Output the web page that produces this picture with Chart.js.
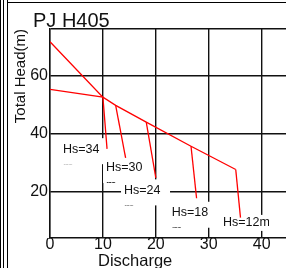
<!DOCTYPE html>
<html>
<head>
<meta charset="utf-8">
<script src="https://cdn.jsdelivr.net/npm/chart.js@4.4.1/dist/chart.umd.min.js"></script>
<style>
  body { margin: 0; background: #fff; }
  #wrap { position: relative; width: 286px; height: 268px; overflow: hidden; }
  .vline { position: absolute; top: 0; width: 1px; height: 268px; background: #000; }
  .hline { position: absolute; left: 8px; top: 2px; width: 278px; height: 1px; background: #000; }
  #title { position: absolute; left: 33px; top: 10px; font: 20px "Liberation Sans", Arial, sans-serif; line-height: 20px; color: #111; }
  #xtitle { position: absolute; left: 98px; top: 252px; font: 16.5px "Liberation Sans", Arial, sans-serif; line-height: 16px; color: #111; }
</style>
</head>
<body>
<div id="wrap">
  <canvas id="pump" width="286" height="268"></canvas>
  <div class="vline" style="left:0"></div>
  <div class="vline" style="left:3px"></div>
  <div class="vline" style="left:7px"></div>
  <div class="hline"></div>
  <div id="title">PJ H405</div>
  <div id="xtitle">Discharge</div>
</div>
<script>
// axis ticks
const xTicks = [0, 10, 20, 30, 40];
const xTickLabels = ["0", "10", "20", "30", "40"];
const yTicks = [20, 40, 60, 76];
const yTickLabels = ["20", "40", "60", ""];

// steep head curve (upper left)
const headX = [0, 10];
const headY = [71.6, 52.5];

// main performance curve
const mainX = [0, 10, 12.41, 18.19, 26.65, 35.1];
const mainY = [55.2, 52.5, 49.7, 43.9, 35.6, 27.6];

// suction head drop lines
const hsNames = ["Hs=34", "Hs=30", "Hs=24", "Hs=18", "Hs=12m"];
const dropTopX = [10, 12.41, 18.19, 26.65, 35.1];
const dropTopY = [52.5, 49.7, 43.9, 35.6, 27.6];
const dropEndX = [10.78, 14.29, 20.0, 27.7, 36.0];
const dropEndY = [34.7, 31.6, 24.7, 17.7, 11.0];

// where each Hs label sits (data coords: text left, text middle)
const labelAtX = [2.46, 10.59, 13.99, 23.0, 32.7];
const labelAtY = [34.6, 28.1, 20.4, 12.7, 9.2];

const red = "#ff0000";
const pts = (xs, ys) => xs.map((x, i) => ({ x: x, y: ys[i] }));

const datasets = [
  { data: pts(headX.concat([dropEndX[0]]), headY.concat([dropEndY[0]])) },
  { data: pts(mainX, mainY) },
];
for (let i = 1; i < hsNames.length; i++) {
  datasets.push({ data: pts([dropTopX[i], dropEndX[i]], [dropTopY[i], dropEndY[i]]) });
}
datasets.forEach(d => {
  d.showLine = true;
  d.borderColor = red;
  d.borderWidth = 1.3;
  d.pointRadius = 0;
  d.fill = false;
});

// white label boxes with the label text, "m" wraps and gets cut
const hsLabels = {
  id: "hsLabels",
  beforeDatasetsDraw(chart) {
    const ctx = chart.ctx;
    const xs = chart.scales.x;
    const ys = chart.scales.y;
    ctx.save();
    ctx.font = '12.5px "Liberation Sans", Arial, sans-serif';
    ctx.textBaseline = "middle";
    ctx.textAlign = "left";
    hsNames.forEach((name, i) => {
      const px = xs.getPixelForValue(labelAtX[i]);
      const py = ys.getPixelForValue(labelAtY[i]);
      const oneLine = name.endsWith("m");
      const top = oneLine ? py - 8 : py - 11;
      const bottom = oneLine ? py + 8 : py + 15;
      ctx.fillStyle = "#fff";
      ctx.fillRect(px - 3, top, 49, bottom - top);
      ctx.save();
      ctx.beginPath();
      ctx.rect(px - 3, top, 49, bottom - top);
      ctx.clip();
      ctx.fillStyle = "#111";
      ctx.fillText(name, px, py);
      if (!oneLine) ctx.fillText("m", px, py + 18);
      ctx.restore();
    });
    ctx.restore();
  },
};

const gridStyle = { color: "#111", lineWidth: 1.4, drawTicks: false };
const tickFont = { family: '"Liberation Sans Narrow", "Liberation Sans", Arial, sans-serif', size: 16, lineHeight: 1 };

new Chart(document.getElementById("pump"), {
  type: "scatter",
  data: { datasets: datasets },
  options: {
    responsive: false,
    animation: false,
    devicePixelRatio: 1,
    layout: { padding: { left: 8, top: 29, right: 0, bottom: 16 } },
    plugins: { legend: { display: false }, tooltip: { enabled: false } },
    scales: {
      x: {
        type: "linear",
        min: 0,
        max: 44.6,
        afterBuildTicks: s => { s.ticks = xTicks.map(v => ({ value: v })); },
        grid: gridStyle,
        border: { color: "#111", width: 1.4 },
        ticks: { color: "#111", font: tickFont, padding: -1, maxRotation: 0, callback: (v, i) => xTickLabels[i] },
      },
      y: {
        type: "linear",
        min: 4,
        max: 76,
        afterBuildTicks: s => { s.ticks = yTicks.map(v => ({ value: v })); },
        afterFit: s => { s.width = 42; },
        grid: gridStyle,
        border: { color: "#111", width: 1.4 },
        ticks: { color: "#111", font: tickFont, padding: 2, callback: (v, i) => yTickLabels[i] },
        title: {
          display: true,
          text: "Total Head(m)",
          align: "end",
          color: "#111",
          font: { family: '"Liberation Sans", Arial, sans-serif', size: 15 },
          padding: { top: 4, bottom: 0 },
        },
      },
    },
  },
  plugins: [hsLabels],
});
</script>
</body>
</html>
